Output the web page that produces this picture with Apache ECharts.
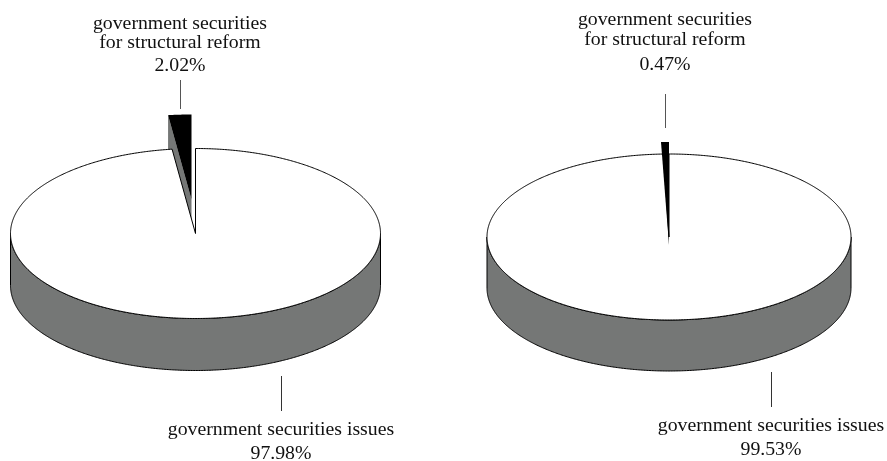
<!DOCTYPE html>
<html><head><meta charset="utf-8">
<style>html,body{margin:0;padding:0;background:#fff}#c{width:887px;height:461px}</style>
<script src="https://cdn.jsdelivr.net/npm/echarts@6/dist/echarts.min.js"></script>
</head><body><div id="c"></div>
<script>
// data
var categories = ['government securities for structural reform', 'government securities issues'];
var sharesLeft = [2.02, 97.98];
var sharesRight = [0.47, 99.53];
var labelLeft = ['2.02%', '97.98%'];
var labelRight = ['0.47%', '99.53%'];
var smallLines = ['government securities', 'for structural reform'];

// layout
var pies = [
  {values: sharesLeft, pct: labelLeft, cx: 195.5, cy: 233.5, rx: 185, ry: 85, depth: 52,
   sliceDx: -4, sliceDy: -34, sliceRy: 85, minSweep: 0, sliceSide: true, sliceOnTop: false,
   upY: [80, 109], upX: 180, upText: [24, 43, 66], lowX: 281, lowLine: [376, 411], lowText: [430, 454]},
  {values: sharesRight, pct: labelRight, cx: 669, cy: 237, rx: 182, ry: 83, depth: 51,
   sliceDx: 0, sliceDy: 8, sliceRy: 103, minSweep: 2.52, sliceSide: false, sliceOnTop: true,
   upY: [94, 128], upX: 665, upText: [20, 40, 65], lowX: 771, lowLine: [372, 407], lowText: [426, 450]}
];
var GRAY = '#757776';
var FONT = '"Liberation Serif", serif';

function pt(cx, cy, rx, ry, deg) {
  var t = deg * Math.PI / 180;
  return [cx + rx * Math.sin(t), cy - ry * Math.cos(t)];
}
function arc(cx, cy, rx, ry, a, b) {
  var pts = [], n = Math.max(2, Math.ceil(Math.abs(b - a) * 2));
  for (var i = 0; i <= n; i++) pts.push(pt(cx, cy, rx, ry, a + (b - a) * i / n));
  return pts;
}
function renderPie(params, api) {
  var p = pies[api.value(0)];
  var sweep = api.value(1) / (api.value(1) + api.value(2)) * 360;
  var drawn = Math.max(sweep, p.minSweep);
  var kids = [];
  // exploded slice
  var sx = p.cx + p.sliceDx, sy = p.cy + p.sliceDy;
  var rim = arc(sx, sy, p.rx, p.sliceRy, -drawn, 0);
  var sliceKids = [];
  if (p.sliceSide) {
    var L = rim[0], A = [sx, sy];
    sliceKids.push({type: 'polygon', shape: {points: [L, A, [A[0], A[1] + p.depth], [L[0], L[1] + p.depth]]},
      style: {fill: GRAY, stroke: null}});
  }
  sliceKids.push({type: 'polygon', shape: {points: [[sx, sy]].concat(rim)}, style: {fill: '#000', stroke: null}});
  // main side
  var lower = arc(p.cx, p.cy, p.rx, p.ry, 90, 270);
  var bottom = arc(p.cx, p.cy + p.depth, p.rx, p.ry, 270, 90);
  var mainKids = [
    {type: 'polygon', shape: {points: lower.concat(bottom)}, style: {fill: GRAY, stroke: '#000', lineWidth: 1}},
    {type: 'polygon', shape: {points: [[p.cx, p.cy]].concat(arc(p.cx, p.cy, p.rx, p.ry, 0, 360 - sweep))},
      style: {fill: '#fff', stroke: '#000', lineWidth: 1}}
  ];
  kids = p.sliceOnTop ? mainKids.concat(sliceKids) : sliceKids.concat(mainKids);
  // leader lines
  kids.push({type: 'line', shape: {x1: p.upX + 0.5, y1: p.upY[0], x2: p.upX + 0.5, y2: p.upY[1]}, style: {stroke: '#555', lineWidth: 1}});
  kids.push({type: 'line', shape: {x1: p.lowX + 0.5, y1: p.lowLine[0], x2: p.lowX + 0.5, y2: p.lowLine[1]}, style: {stroke: '#333', lineWidth: 1}});
  return {type: 'group', children: kids};
}

var texts = [];
pies.forEach(function (p) {
  function add(str, x, y) {
    texts.push({type: 'text', x: x, y: y, silent: true,
      style: {text: str, fill: '#111', font: '19.8px ' + FONT, align: 'center', verticalAlign: 'middle'}});
  }
  add(smallLines[0], p.upX, p.upText[0]);
  add(smallLines[1], p.upX, p.upText[1]);
  add(p.pct[0], p.upX, p.upText[2]);
  add(categories[1], p.lowX, p.lowText[0]);
  add(p.pct[1], p.lowX, p.lowText[1]);
});

var chart = echarts.init(document.getElementById('c'), null, {renderer: 'canvas'});
chart.setOption({
  animation: false,
  backgroundColor: '#fff',
  graphic: {elements: texts},
  series: [{
    type: 'custom',
    coordinateSystem: 'none',
    silent: true,
    renderItem: renderPie,
    encode: {},
    data: pies.map(function (p, i) { return [i, p.values[0], p.values[1]]; })
  }]
});
</script></body></html>
